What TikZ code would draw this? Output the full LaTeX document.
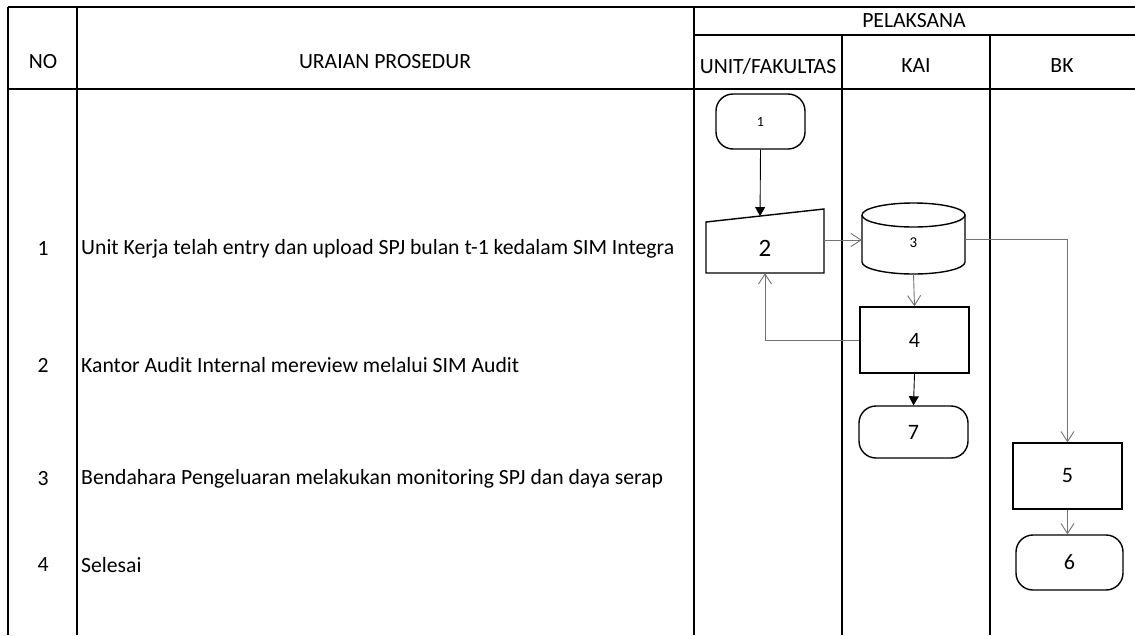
\documentclass[tikz,border=0pt]{standalone}
\usepackage{fontspec}
\setmainfont{Carlito}
\usetikzlibrary{arrows.meta,calc}
\begin{document}
\begin{tikzpicture}[x=1pt,y=-1pt,
  tbl/.style={line width=1.8pt,black},
  txt/.style={font=\fontsize{21.7}{24}\selectfont,inner sep=0pt},
  hdr/.style={font=\fontsize{21.7}{24}\selectfont,inner sep=0pt},
  shp/.style={draw,line width=1.4pt,fill=white},
  term/.style={shp,rounded corners=17pt},
  conn/.style={line width=0.9pt,draw=black!55},
  openarr/.style={-{Straight Barb[length=10pt,width=13pt]}},
  fillarr/.style={-{Triangle[length=9pt,width=10pt]}}]
\useasboundingbox[fill=white] (0,0) rectangle (1135,635);
% table
\draw[tbl] (8,7) -- (1135,7);
\draw[tbl] (694,35) -- (1135,35);
\draw[tbl] (8,89) -- (1135,89);
\draw[tbl] (8,7) -- (8,635);
\draw[tbl] (77,7) -- (77,635);
\draw[tbl] (694,7) -- (694,635);
\draw[tbl] (842,35) -- (842,635);
\draw[tbl] (990,35) -- (990,635);
% headers
\node[hdr] (hno) at (43,62) {NO};
\node[hdr] (hur) at (385,62) {URAIAN PROSEDUR};
\node[hdr] (hpel) at (914,21) {PELAKSANA};
\node[hdr] (hunit) at (768,66) {UNIT/FAKULTAS};
\node[hdr] (hkai) at (916,66) {KAI};
\node[hdr] (hbk) at (1062,66) {BK};
% rows
\node[txt] (r1n) at (43,249) {1};
\node[txt,anchor=west] (r1t) at (81,249) {Unit Kerja telah entry dan upload SPJ bulan t-1 kedalam SIM Integra};
\node[txt] (r2n) at (43,365) {2};
\node[txt,anchor=west] (r2t) at (81,365) {Kantor Audit Internal mereview melalui SIM Audit};
\node[txt] (r3n) at (43,479) {3};
\node[txt,anchor=west] (r3t) at (81,479) {Bendahara Pengeluaran melakukan monitoring SPJ dan daya serap};
\node[txt] (r4n) at (43,565) {4};
\node[txt,anchor=west] (r4t) at (81,565) {Selesai};
% shapes
\node[term,minimum width=89pt,minimum height=55pt,font=\fontsize{14}{16}\selectfont] (n1) at (760.5,121.5) {1};
% node 2: manual input
\node[minimum width=118pt,minimum height=64pt,inner sep=0pt] (n2) at (765,241) {};
\coordinate (n2tl) at (706,222);
\coordinate (n2tr) at (824,209);
\draw[shp] (706,273) -- (824,273) -- (n2tr) -- (n2tl) -- cycle;
\node[font=\fontsize{25}{28}\selectfont] (n2t) at (765,248) {2};
% node 3: cylinder
\node[minimum width=103pt,minimum height=71pt,inner sep=0pt] (n3) at (913.5,238.5) {};
\draw[shp] (862,215) -- (862,262) arc[start angle=180,end angle=360,x radius=51.5pt,y radius=12pt] -- (965,215);
\draw[shp] (913.5,215) ellipse[x radius=51.5pt,y radius=12pt];
\node[font=\fontsize{15}{17}\selectfont] (n3t) at (913.5,243) {3};
% node 4
\node[shp,minimum width=109pt,minimum height=66pt,inner sep=0pt,font=\fontsize{22}{24}\selectfont] (n4) at (914.5,340) {4};
% node 7
\node[term,minimum width=109pt,minimum height=52pt,inner sep=0pt,font=\fontsize{22}{24}\selectfont] (n7) at (913.5,432) {7};
% node 5
\node[shp,minimum width=109pt,minimum height=66pt,inner sep=0pt,font=\fontsize{22}{24}\selectfont] (n5) at (1067.5,476) {5};
% node 6
\node[term,minimum width=107pt,minimum height=55pt,inner sep=0pt,font=\fontsize{22}{24}\selectfont] (n6) at (1069.5,562.5) {6};
% connectors
\coordinate (c2top) at ($(n2tl)!0.458!(n2tr)$);
\draw[line width=0.9pt,black,fillarr] (n1.south) -- (c2top);
\draw[conn,openarr] (n2.east |- 0,240) -- (n3.west |- 0,240);
\draw[conn,openarr] (n3.east |- 0,239) -| (n5.north);
\draw[conn,openarr] (n3.south) -- (n4.north);
\draw[conn,openarr] (n4.west) -| (n2.south);
\draw[line width=0.9pt,black,fillarr] (n4.south) -- (n7.north);
\draw[conn,openarr] (n5.south) -- (n5.south |- n6.north);
\end{tikzpicture}
\end{document}
